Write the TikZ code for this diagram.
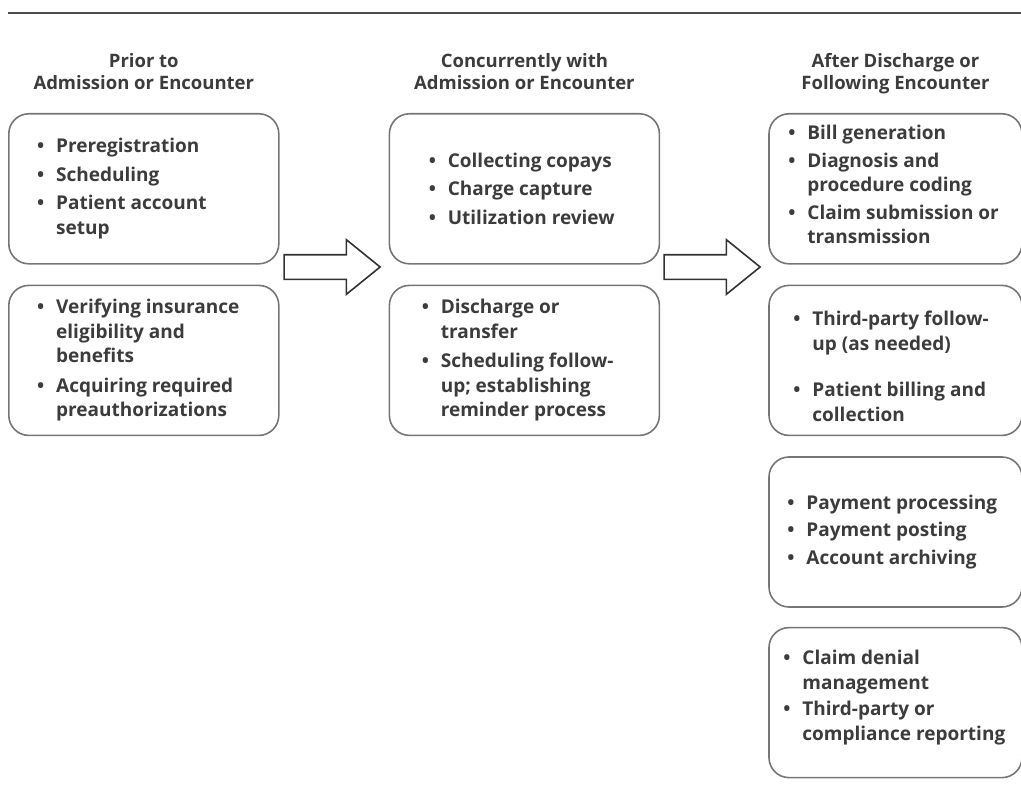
\documentclass[tikz,border=0pt]{standalone}
\usepackage{fontspec}
\setmainfont{Open Sans}
\usetikzlibrary{positioning,shapes.arrows}

\definecolor{boxgray}{HTML}{767676}
\definecolor{txtgray}{HTML}{3C3C3C}

% bullet and hanging indent for the lists
\newcommand{\bul}{\makebox[19pt][l]{\textbullet}}
\newcommand{\ind}{\hspace*{19pt}}

\begin{document}
\begin{tikzpicture}[x=1pt, y=-1pt, node distance=20pt,
    stage/.style = {draw=boxgray, line width=1.6pt, rounded corners=20pt,
                    minimum width=270pt, minimum height=150pt, inner sep=0pt},
    items/.style = {align=left, anchor=west, inner sep=0pt, text=txtgray,
                    font=\bfseries\fontsize{19}{24.5}\selectfont},
    head/.style = {align=center, inner sep=0pt, text=txtgray, text depth=5pt,
                   font=\bfseries\fontsize{18.5}{22}\selectfont},
    bigarrow/.style = {single arrow, draw=black!80, line width=1.6pt,
                       minimum height=96pt, minimum width=53pt,
                       single arrow head extend=15pt, single arrow tip angle=78,
                       inner xsep=0pt, inner ysep=11.5pt}]
    \useasboundingbox (0,0) rectangle (1021,808);
    \draw[line width=2.8pt, black!70] (8,13) -- (1021,13);

    % boxes
    \node[stage, anchor=north west] (a1) at (8,113) {};
    \node[stage] (a2) [below=of a1] {};
    \node[stage] (b1) [right=109pt of a1] {};
    \node[stage] (b2) [below=of b1] {};
    \node[stage, minimum width=253pt] (c1) [right=108pt of b1] {};
    \node[stage, minimum width=253pt] (c2) [below=of c1] {};
    \node[stage, minimum width=253pt] (c3) [below=of c2] {};
    \node[stage, minimum width=253pt] (c4) [below=19pt of c3] {};

    % column heads
    \node[head] (ha) [above=18pt of a1] {Prior to\\Admission or Encounter};
    \node[head] (hb) [above=18pt of b1] {Concurrently with\\Admission or Encounter};
    \node[head] (hc) [above=18pt of c1] {After Discharge or\\Following Encounter};

    % lists
    \node[items] (ta1) at ([xshift=29pt]a1.west)
        {\bul Preregistration\\[4pt] \bul Scheduling\\[4pt] \bul Patient account\\ \ind setup};
    \node[items] (ta2) at ([xshift=29pt]a2.west)
        {\bul Verifying insurance\\ \ind eligibility and\\ \ind benefits\\[5pt]
         \bul Acquiring required\\ \ind preauthorizations};
    \node[items] (tb1) at ([xshift=40pt]b1.west)
        {\bul Collecting copays\\[4pt] \bul Charge capture\\[4pt] \bul Utilization review};
    \node[items] (tb2) at ([xshift=33pt]b2.west)
        {\bul Discharge or\\ \ind transfer\\[5pt]
         \bul Scheduling follow-\\ \ind up; establishing\\ \ind reminder process};
    \node[items] (tc1) at ([xshift=20pt, yshift=4pt]c1.west)
        {\bul Bill generation\\[3pt] \bul Diagnosis and\\ \ind procedure coding\\[3pt]
         \bul Claim submission or\\ \ind transmission};
    \node[items] (tc2) at ([xshift=25pt, yshift=-6pt]c2.west)
        {\bul Third-party follow-\\ \ind up (as needed)\\[22pt]
         \bul Patient billing and\\ \ind collection};
    \node[items] (tc3) at ([xshift=19pt]c3.west)
        {\bul Payment processing\\[3pt] \bul Payment posting\\[3pt] \bul Account archiving};
    \node[items] (tc4) at ([xshift=15pt, yshift=5pt]c4.west)
        {\bul Claim denial\\ \ind management\\[2pt]
         \bul Third-party or\\ \ind compliance reporting};

    % flow arrows
    \node[bigarrow] (arr1) at (324.5,267) {};
    \node[bigarrow] (arr2) at (704.5,267) {};
\end{tikzpicture}
\end{document}
